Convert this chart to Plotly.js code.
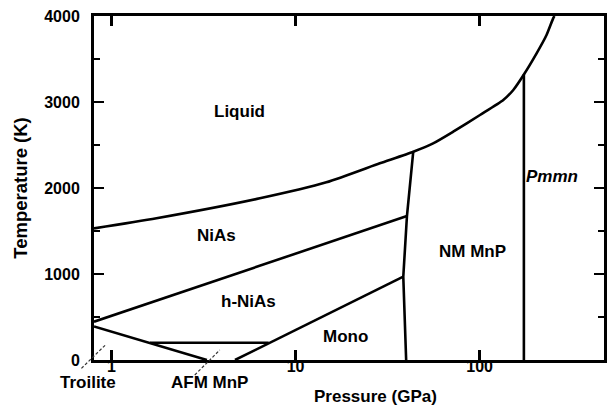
<!DOCTYPE html>
<html>
<head>
<meta charset="utf-8">
<script src="https://cdn.plot.ly/plotly-3.0.1.min.js"></script>
<style>html,body{margin:0;padding:0;background:#fff;}#chart{width:607px;height:407px;}</style>
</head>
<body>
<div id="chart"></div>
<script>
// ---- data (pressure in GPa, temperature in K) ----
const meltP = [0.804, 1.757, 6.40, 14.7, 28.7, 43.6, 55.9, 71.9, 100.5, 134.5, 152.4, 174, 204, 231, 251, 255];
const meltT = [1530, 1648, 1880, 2066, 2287, 2422, 2519, 2655, 2849, 3023, 3140, 3320, 3566, 3779, 3973, 4000];
const niasP = [0.804, 40.3];
const niasT = [445, 1674];
const troiP = [0.804, 3.30];
const troiT = [390, 0];
const afmP = [1.62, 7.15];
const afmT = [201, 201];
const monoP = [4.69, 38.5];
const monoT = [0, 969];
const b40P = [43.6, 40.3, 38.5, 39.9];
const b40T = [2422, 1674, 969, 0];
const b175P = [174, 174];
const b175T = [3320, 0];
const troiDashP = [0.687, 0.939];
const troiDashT = [-97, 186];
const afmDashP = [2.836, 3.878];
const afmDashT = [-174, 116];

const regionText = ['Liquid', 'NiAs', 'h-NiAs', 'Mono', 'NM MnP', '<i>Pmmn</i>'];
const regionP = [4.98, 3.72, 5.53, 18.6, 92, 247];
const regionT = [2890, 1453, 678, 279, 1267, 2128];
const outerText = ['Troilite', 'AFM MnP'];
const outerP = [0.746, 3.42];
const outerT = [-256, -256];

const xTickVals = [1, 10, 100];
const xTickText = ['1', '10', '100'];
const pRange = [0.804, 474];
const tRange = [0, 4000];
const xTitle = 'Pressure (GPa)';
const yTitle = 'Temperature (K)';

// ---- helpers ----
const lx = [Math.log10(pRange[0]), Math.log10(pRange[1])];
function xPaper(p) { return (Math.log10(p) - lx[0]) / (lx[1] - lx[0]); }
function yPaper(t) { return (t - tRange[0]) / (tRange[1] - tRange[0]); }

const FONT = 'Liberation Sans, Arial, Helvetica, sans-serif';
const lineStyle = {color: '#000', width: 2.6};

function lineTrace(px, py, smooth) {
  const ls = Object.assign({}, lineStyle);
  if (smooth) { ls.shape = 'spline'; ls.smoothing = 0.6; }
  return {x: px, y: py, type: 'scatter', mode: 'lines', line: ls, hoverinfo: 'skip', showlegend: false};
}

const traces = [
  lineTrace(meltP, meltT, true),
  lineTrace(niasP, niasT),
  lineTrace(troiP, troiT),
  lineTrace(afmP, afmT),
  lineTrace(monoP, monoT),
  lineTrace(b40P, b40T),
  lineTrace(b175P, b175T)
];

const shapes = [[troiDashP, troiDashT], [afmDashP, afmDashT]].map(function (d) {
  return {
    type: 'line', xref: 'paper', yref: 'paper',
    x0: xPaper(d[0][0]), y0: yPaper(d[1][0]), x1: xPaper(d[0][1]), y1: yPaper(d[1][1]),
    line: {color: '#333', width: 1.2, dash: '3px,2px'}
  };
});

const labelFont = {family: FONT, size: 17, color: '#000', weight: 'bold'};
const annotations = [];
regionText.forEach(function (t, i) {
  annotations.push({
    text: t, x: Math.log10(regionP[i]), y: regionT[i], xref: 'x', yref: 'y',
    showarrow: false, xanchor: 'center', yanchor: 'middle', font: labelFont
  });
});
outerText.forEach(function (t, i) {
  annotations.push({
    text: t, x: xPaper(outerP[i]), y: yPaper(outerT[i]), xref: 'paper', yref: 'paper',
    showarrow: false, xanchor: 'center', yanchor: 'middle', font: labelFont
  });
});
// x-axis title (sits right of the plot centre in the reference)
annotations.push({
  text: xTitle, x: 0.551, y: -0.105, xref: 'paper', yref: 'paper',
  showarrow: false, xanchor: 'center', yanchor: 'middle', font: labelFont
});

const layout = {
  width: 607, height: 407,
  margin: {l: 94, r: 3, t: 16, b: 47},
  paper_bgcolor: '#fff', plot_bgcolor: '#fff',
  showlegend: false,
  font: {family: FONT, color: '#000'},
  xaxis: {
    type: 'log', range: lx, showgrid: false, zeroline: false,
    showline: true, linewidth: 3, linecolor: '#000', mirror: 'ticks',
    ticks: 'inside', ticklen: 10, tickwidth: 2.6, tickcolor: '#000',
    tickvals: xTickVals, ticktext: xTickText,
    tickfont: {family: FONT, size: 16, color: '#000', weight: 'bold'},
    ticklabelstandoff: -10,
    automargin: false
  },
  yaxis: {
    range: tRange, showgrid: false, zeroline: false,
    showline: true, linewidth: 3, linecolor: '#000', mirror: 'ticks',
    ticks: 'inside', ticklen: 10, tickwidth: 2.6, tickcolor: '#000',
    dtick: 1000, tick0: 0,
    minor: {dtick: 500, ticks: 'inside', ticklen: 6, tickwidth: 2.6, tickcolor: '#000', showgrid: false},
    tickfont: {family: FONT, size: 16, color: '#000', weight: 'bold'},
    ticklabelstandoff: 8,
    title: {text: yTitle, font: {family: FONT, size: 18.5, color: '#000', weight: 'bold'}, standoff: 12},
    automargin: false
  },
  shapes: shapes,
  annotations: annotations
};

Plotly.newPlot('chart', traces, layout, {displayModeBar: false, staticPlot: true});
</script>
</body>
</html>
